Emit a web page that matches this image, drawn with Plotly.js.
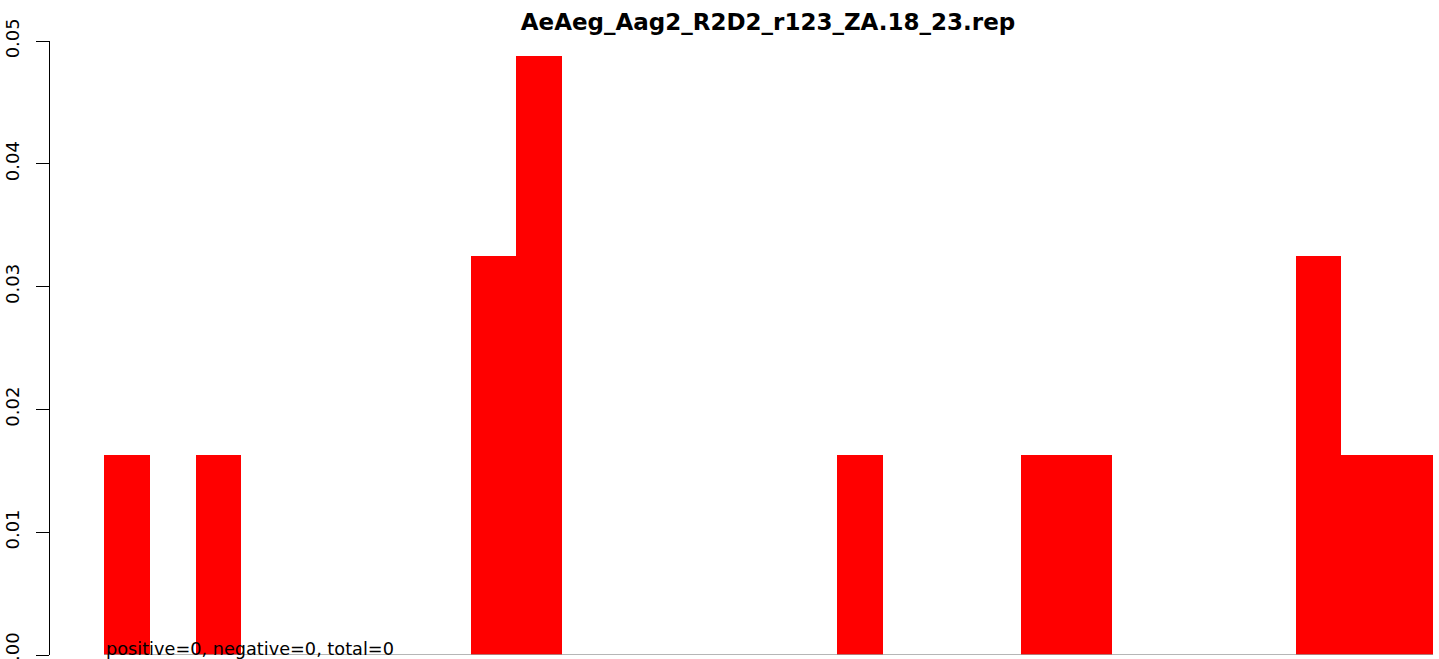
<!DOCTYPE html>
<html>
<head>
<meta charset="utf-8">
<script src="https://cdn.plot.ly/plotly-3.0.1.min.js"></script>
<style>html,body{margin:0;padding:0;background:#fff;}#chart{width:1439px;height:659px;}</style>
</head>
<body>
<div id="chart"></div>
<script>
var categories = [1,2,3,4,5,6,7,8,9,10,11,12,13,14,15,16,17,18,19,20,21,22,23,24,25,26,27,28,29];
var values = [0.0163,0,0.0163,0,0,0,0,0,0.0325,0.0488,0,0,0,0,0,0,0.0163,0,0,0,0.0163,0.0163,0,0,0,0,0.0325,0.0163,0.0163];
var yTicks = [0,0.01,0.02,0.03,0.04,0.05];
var yTickText = ["0.00","0.01","0.02","0.03","0.04","0.05"];
var titleText = "AeAeg_Aag2_R2D2_r123_ZA.18_23.rep";
var noteText = "positive=0, negative=0, total=0";

var trace = {
  type: 'bar', x: categories, y: values, width: 1,
  marker: {color: '#ff0000', line: {width: 0}},
  hoverinfo: 'x+y'
};
var unit = 45.83;
var x0 = 0.5 - 54/unit;
var layout = {
  width: 1439, height: 659,
  margin: {l: 50, r: 0, t: 41, b: 4, pad: 0},
  paper_bgcolor: '#fff', plot_bgcolor: '#fff',
  showlegend: false, bargap: 0,
  font: {family: 'DejaVu Sans, sans-serif', color: '#000'},
  title: {text: '<b>' + titleText + '</b>', font: {family: 'DejaVu Sans, sans-serif', size: 23, color: '#000'},
          xref: 'container', x: 768/1439, xanchor: 'center', yref: 'container', y: 1 - 22/659, yanchor: 'middle'},
  xaxis: {range: [x0, x0 + 1389/unit], showgrid: false, zeroline: false, showline: false,
          showticklabels: false, ticks: '', fixedrange: true},
  yaxis: {range: [0, 0.05], tickvals: yTicks, ticktext: yTickText, tickangle: -90,
          ticks: 'outside', ticklen: 13, tickwidth: 1, tickcolor: '#000',
          showline: true, linecolor: '#000', linewidth: 1, showgrid: false, zeroline: false,
          tickfont: {size: 18, family: 'DejaVu Sans, sans-serif', color: '#000'},
          ticklabeloverflow: 'allow', ticklabelstandoff: 10, fixedrange: true},
  shapes: [{type: 'line', xref: 'x', yref: 'y', x0: categories[0] - 0.5, x1: categories[categories.length-1] + 0.5, y0: 0, y1: 0,
            line: {color: '#9e9e9e', width: 1.5}, layer: 'above'}],
  annotations: [{text: noteText, xref: 'x', yref: 'y', x: categories[0] - 0.5, y: 0, xanchor: 'left', yanchor: 'bottom',
                 yshift: -6, showarrow: false, font: {family: 'DejaVu Sans, sans-serif', size: 17.7, color: '#000'}}]
};
Plotly.newPlot('chart', [trace], layout, {displayModeBar: false, staticPlot: true});
</script>
</body>
</html>
